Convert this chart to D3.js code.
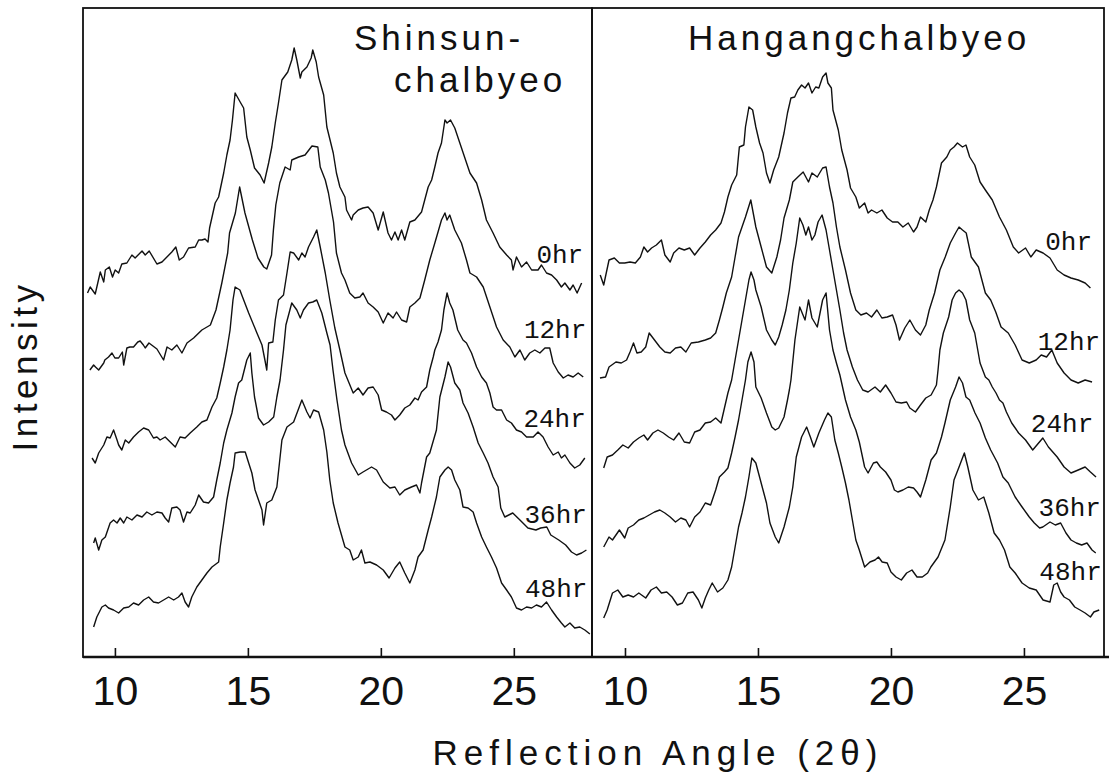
<!DOCTYPE html>
<html>
<head>
<meta charset="utf-8">
<script src="https://cdnjs.cloudflare.com/ajax/libs/d3/7.8.5/d3.min.js"></script>
<style>
  body { margin: 0; background: #fff; }
</style>
</head>
<body>
<script>
const WIDTH = 1109;
const HEIGHT = 772;
const TOP = 8;
const BOTTOM = 657;

// [reflection angle 2θ (deg), intensity (a.u., stacked)]
var shinsun0hr = [[8.97,364],[9.07,370],[9.26,363],[9.45,385],[9.58,375],[9.64,387],[9.79,390],[9.91,380],[10.01,387],[10.14,384],[10.26,393],[10.45,394],[10.64,402],[10.76,399],[11.02,406],[11.14,402],[11.29,406],[11.58,393],[11.77,395],[12.14,405],[12.29,410],[12.42,397],[12.58,400],[12.77,409],[13.02,410],[13.15,417],[13.27,417],[13.39,418],[13.50,415],[13.56,429],[13.77,454],[13.90,460],[14.09,484],[14.21,502],[14.33,517],[14.42,537],[14.52,564],[14.71,555],[14.84,549],[14.96,520],[15.09,507],[15.25,489],[15.46,482],[15.61,474],[15.78,494],[15.90,510],[16.03,534],[16.15,554],[16.28,577],[16.50,585],[16.65,597],[16.74,609],[16.84,597],[16.97,579],[17.03,585],[17.22,590],[17.38,599],[17.44,607],[17.57,595],[17.66,580],[17.85,562],[17.97,530],[18.21,504],[18.33,484],[18.46,470],[18.65,460],[18.71,447],[18.90,437],[18.96,442],[19.15,447],[19.33,449],[19.52,450],[19.71,444],[19.90,427],[20.09,445],[20.27,424],[20.40,417],[20.53,425],[20.65,417],[20.78,427],[20.90,417],[21.09,435],[21.28,437],[21.53,445],[21.65,457],[21.78,470],[21.91,477],[22.03,490],[22.15,504],[22.28,514],[22.41,537],[22.49,534],[22.62,537],[22.78,529],[22.97,514],[23.16,499],[23.35,484],[23.60,474],[23.79,457],[23.97,437],[24.22,424],[24.47,410],[24.73,402],[24.91,397],[24.97,387],[25.10,400],[25.29,390],[25.48,395],[25.67,387],[25.91,387],[26.04,392],[26.23,384],[26.42,382],[26.61,377],[26.79,370],[26.92,374],[27.11,367],[27.23,372],[27.38,364],[27.55,374]];

var shinsun12hr = [[9.06,287],[9.20,292],[9.27,290],[9.39,287],[9.58,294],[9.62,297],[9.76,300],[9.89,304],[10.00,299],[10.14,299],[10.28,305],[10.33,292],[10.45,309],[10.56,310],[10.70,310],[10.86,315],[10.95,316],[11.07,312],[11.14,309],[11.28,314],[11.58,308],[11.83,297],[11.96,310],[12.14,307],[12.33,312],[12.52,304],[12.71,314],[12.96,319],[13.27,327],[13.59,332],[13.80,347],[14.02,374],[14.24,404],[14.31,424],[14.53,444],[14.69,470],[14.89,444],[15.17,417],[15.38,399],[15.60,390],[15.71,388],[15.89,402],[15.96,427],[16.05,452],[16.20,474],[16.40,490],[16.59,487],[16.65,497],[16.91,500],[17.15,502],[17.41,511],[17.63,510],[17.72,490],[17.91,477],[18.03,464],[18.22,435],[18.33,404],[18.52,384],[18.65,377],[18.83,364],[19.02,359],[19.21,360],[19.33,364],[19.52,354],[19.71,350],[19.90,345],[20.09,334],[20.27,344],[20.46,339],[20.59,345],[20.78,337],[20.97,335],[21.09,350],[21.28,354],[21.47,359],[21.65,377],[21.84,397],[22.03,414],[22.15,425],[22.28,437],[22.41,444],[22.49,437],[22.59,442],[22.78,427],[23.03,414],[23.22,397],[23.35,384],[23.60,380],[23.85,370],[24.10,350],[24.35,330],[24.60,317],[24.85,310],[25.04,300],[25.23,307],[25.41,297],[25.60,304],[25.79,307],[25.98,304],[26.17,309],[26.35,309],[26.48,294],[26.67,285],[26.86,279],[27.04,282],[27.23,280],[27.42,284],[27.61,280]];

var shinsun24hr = [[9.14,199],[9.26,194],[9.39,204],[9.58,212],[9.70,220],[9.82,219],[9.95,227],[10.08,217],[10.14,212],[10.26,207],[10.39,217],[10.52,214],[10.70,220],[10.89,225],[11.08,229],[11.27,227],[11.45,219],[11.58,220],[11.70,217],[11.89,220],[12.08,215],[12.27,210],[12.45,220],[12.64,219],[12.83,224],[13.08,230],[13.27,235],[13.46,237],[13.65,250],[13.83,259],[13.96,274],[14.09,290],[14.21,307],[14.33,327],[14.44,357],[14.52,370],[14.70,367],[14.77,362],[15.03,344],[15.34,324],[15.53,312],[15.64,297],[15.71,287],[15.78,314],[15.94,315],[16.03,337],[16.15,357],[16.34,362],[16.47,384],[16.59,405],[16.72,404],[16.91,397],[17.03,404],[17.15,400],[17.28,410],[17.47,420],[17.59,427],[17.72,410],[17.91,384],[18.08,357],[18.27,329],[18.46,307],[18.65,284],[18.96,264],[19.15,269],[19.33,262],[19.52,269],[19.71,270],[19.90,262],[20.03,247],[20.21,245],[20.40,242],[20.53,237],[20.71,242],[20.90,249],[21.09,252],[21.28,259],[21.40,257],[21.53,265],[21.72,270],[21.84,287],[21.97,300],[22.03,307],[22.15,315],[22.28,327],[22.37,347],[22.49,364],[22.59,354],[22.71,347],[22.89,327],[23.09,317],[23.22,314],[23.41,304],[23.60,290],[23.79,280],[23.97,274],[24.10,264],[24.22,250],[24.35,247],[24.54,247],[24.73,237],[24.91,234],[25.10,227],[25.29,225],[25.48,220],[25.73,220],[25.91,225],[26.10,220],[26.29,210],[26.48,202],[26.67,205],[26.79,199],[26.92,202],[27.11,194],[27.29,189],[27.48,192],[27.67,199]];

var shinsun36hr = [[9.20,114],[9.26,119],[9.39,107],[9.51,117],[9.64,120],[9.82,134],[9.95,137],[10.08,134],[10.20,139],[10.33,134],[10.45,140],[10.64,137],[10.83,142],[11.02,140],[11.20,145],[11.39,142],[11.58,145],[11.77,144],[11.89,139],[12.02,135],[12.14,149],[12.33,150],[12.45,147],[12.58,135],[12.71,145],[12.83,144],[13.02,152],[13.15,162],[13.33,155],[13.52,154],[13.71,160],[13.83,177],[13.96,194],[14.09,214],[14.21,227],[14.40,244],[14.52,260],[14.65,274],[14.77,277],[14.96,297],[15.09,304],[15.15,284],[15.25,260],[15.40,239],[15.59,232],[15.78,235],[15.97,240],[16.09,260],[16.21,277],[16.34,307],[16.43,332],[16.58,347],[16.65,354],[16.84,347],[16.97,339],[17.09,347],[17.28,354],[17.44,355],[17.59,357],[17.78,344],[17.97,324],[18.09,312],[18.20,287],[18.35,257],[18.52,227],[18.65,212],[18.90,194],[19.15,182],[19.33,185],[19.65,190],[19.84,187],[20.09,175],[20.34,169],[20.53,170],[20.71,162],[20.90,167],[21.15,170],[21.34,172],[21.47,164],[21.53,174],[21.72,200],[21.84,204],[22.09,227],[22.22,260],[22.41,280],[22.53,295],[22.62,290],[22.78,274],[22.97,267],[23.09,254],[23.28,244],[23.47,230],[23.66,214],[23.85,204],[24.03,194],[24.22,180],[24.41,170],[24.51,149],[24.66,140],[24.96,144],[25.23,137],[25.53,129],[25.83,127],[26.01,129],[26.24,130],[26.39,122],[26.69,117],[26.95,112],[27.17,105],[27.36,102],[27.55,104],[27.73,107]];

var shinsun48hr = [[9.20,30],[9.32,40],[9.51,50],[9.64,52],[9.76,49],[9.95,47],[10.14,44],[10.33,49],[10.52,50],[10.70,54],[10.89,52],[11.08,57],[11.27,60],[11.45,55],[11.64,54],[11.83,57],[12.02,60],[12.21,57],[12.39,60],[12.52,64],[12.64,55],[12.77,50],[12.89,60],[13.08,70],[13.27,77],[13.46,84],[13.65,90],[13.90,95],[13.96,110],[14.09,134],[14.21,157],[14.33,174],[14.46,190],[14.52,204],[14.71,205],[14.90,205],[15.03,194],[15.15,184],[15.27,167],[15.40,157],[15.53,147],[15.59,132],[15.71,154],[15.90,157],[16.09,170],[16.28,217],[16.47,230],[16.72,235],[17.03,257],[17.22,245],[17.34,239],[17.47,247],[17.66,245],[17.85,227],[17.97,205],[18.08,177],[18.21,154],[18.39,134],[18.65,110],[18.83,107],[18.96,97],[19.15,100],[19.27,107],[19.40,94],[19.59,95],[19.84,92],[20.09,87],[20.31,79],[20.53,89],[20.71,95],[20.90,84],[21.09,74],[21.28,87],[21.40,100],[21.59,107],[21.78,127],[21.91,140],[22.09,160],[22.22,180],[22.41,187],[22.53,190],[22.66,187],[22.78,177],[22.97,167],[23.09,150],[23.28,149],[23.47,145],[23.60,134],[23.79,120],[23.97,110],[24.16,100],[24.35,89],[24.54,74],[24.73,67],[24.91,60],[25.10,49],[25.29,47],[25.48,50],[25.67,49],[25.85,52],[26.04,50],[26.23,55],[26.42,47],[26.61,40],[26.79,34],[26.92,30],[27.11,34],[27.29,29],[27.48,30],[27.67,27],[27.86,23]];

var hangang0hr = [[9.07,382],[9.20,372],[9.40,397],[9.60,399],[9.79,394],[9.99,394],[10.19,395],[10.39,394],[10.58,400],[10.71,410],[10.85,405],[11.00,409],[11.18,412],[11.37,417],[11.50,402],[11.70,395],[11.83,404],[12.03,409],[12.23,407],[12.43,409],[12.62,402],[12.82,409],[13.02,415],[13.22,422],[13.41,427],[13.61,434],[13.74,445],[13.87,460],[14.01,472],[14.20,482],[14.30,510],[14.47,512],[14.53,530],[14.66,550],[14.80,547],[14.92,530],[15.06,514],[15.19,504],[15.32,484],[15.45,474],[15.59,487],[15.78,500],[15.98,524],[16.11,544],[16.24,559],[16.38,560],[16.50,567],[16.64,572],[16.77,569],[16.90,574],[17.03,564],[17.17,570],[17.29,569],[17.43,580],[17.56,584],[17.63,574],[17.76,569],[17.82,547],[18.02,527],[18.15,507],[18.35,487],[18.48,469],[18.68,460],[18.81,449],[19.01,454],[19.14,444],[19.27,447],[19.47,444],[19.66,447],[19.86,439],[20.06,435],[20.26,435],[20.45,430],[20.65,434],[20.85,425],[20.98,430],[21.11,440],[21.31,435],[21.44,447],[21.58,457],[21.71,470],[21.90,494],[22.10,500],[22.23,507],[22.37,510],[22.50,514],[22.69,510],[22.82,512],[22.96,500],[23.15,492],[23.35,475],[23.55,467],[23.81,457],[24.08,440],[24.34,427],[24.60,410],[24.80,404],[25.06,409],[25.26,400],[25.46,407],[25.72,404],[25.98,399],[26.25,387],[26.51,382],[26.77,379],[27.04,377],[27.30,374],[27.50,369]];

var hangang12hr = [[9.06,279],[9.27,280],[9.40,290],[9.66,295],[9.86,294],[10.06,297],[10.19,305],[10.32,314],[10.45,304],[10.61,305],[10.78,310],[10.91,324],[11.11,317],[11.31,310],[11.50,305],[11.70,304],[11.90,309],[12.10,310],[12.29,305],[12.49,314],[12.76,315],[13.02,317],[13.22,319],[13.41,324],[13.55,337],[13.68,350],[13.81,364],[14.01,380],[14.14,400],[14.27,420],[14.40,430],[14.53,440],[14.73,457],[14.92,430],[15.12,410],[15.32,390],[15.52,384],[15.71,400],[15.85,417],[15.98,439],[16.18,457],[16.31,475],[16.50,480],[16.70,485],[16.90,475],[17.03,484],[17.23,480],[17.43,489],[17.56,490],[17.69,470],[17.82,454],[17.95,430],[18.08,410],[18.29,387],[18.48,364],[18.68,347],[18.87,342],[19.08,344],[19.27,340],[19.47,347],[19.66,339],[19.86,340],[20.06,342],[20.19,332],[20.32,317],[20.52,329],[20.71,337],[20.92,327],[21.11,322],[21.31,332],[21.44,347],[21.64,364],[21.84,387],[22.04,400],[22.23,414],[22.43,424],[22.56,430],[22.69,427],[22.83,424],[23.02,400],[23.29,390],[23.55,364],[23.75,357],[23.94,345],[24.14,330],[24.41,324],[24.67,312],[24.93,297],[25.20,294],[25.46,297],[25.65,302],[25.85,300],[26.05,307],[26.25,294],[26.51,284],[26.77,277],[27.04,274],[27.30,277],[27.56,275]];

var hangang24hr = [[9.20,189],[9.33,200],[9.53,202],[9.73,207],[9.92,212],[10.12,209],[10.32,215],[10.52,219],[10.71,222],[10.85,217],[11.05,224],[11.24,227],[11.44,224],[11.64,220],[11.83,217],[12.03,224],[12.23,215],[12.43,214],[12.62,225],[12.82,227],[13.02,234],[13.22,235],[13.41,239],[13.61,234],[13.74,249],[13.87,264],[14.01,277],[14.14,297],[14.27,317],[14.40,337],[14.53,357],[14.66,377],[14.74,385],[14.85,377],[14.92,367],[15.12,350],[15.32,327],[15.52,317],[15.65,312],[15.78,320],[15.91,332],[16.05,347],[16.18,367],[16.31,394],[16.44,414],[16.57,439],[16.69,432],[16.80,422],[16.90,430],[17.03,417],[17.14,422],[17.26,435],[17.41,442],[17.56,427],[17.69,407],[17.82,387],[17.95,367],[18.08,347],[18.22,324],[18.35,307],[18.55,290],[18.74,277],[18.94,267],[19.14,265],[19.40,270],[19.60,265],[19.80,272],[20.00,264],[20.19,255],[20.39,254],[20.59,255],[20.71,249],[20.92,245],[21.11,252],[21.31,259],[21.51,262],[21.71,272],[21.77,287],[21.84,307],[21.97,324],[22.17,340],[22.30,357],[22.43,364],[22.56,367],[22.69,364],[22.82,357],[22.96,337],[23.15,324],[23.35,294],[23.55,280],[23.68,277],[23.81,270],[23.95,264],[24.08,257],[24.21,254],[24.34,245],[24.54,234],[24.80,224],[25.06,217],[25.33,207],[25.71,219],[25.92,210],[26.25,200],[26.51,190],[26.77,184],[27.04,187],[27.30,190],[27.50,185],[27.71,180]];

var hangang36hr = [[9.20,110],[9.40,120],[9.53,117],[9.66,122],[9.79,127],[9.99,119],[10.12,129],[10.32,132],[10.52,137],[10.71,139],[10.91,142],[11.11,145],[11.31,147],[11.50,144],[11.70,140],[11.90,135],[12.10,139],[12.29,137],[12.43,130],[12.62,140],[12.82,145],[13.02,154],[13.22,152],[13.41,167],[13.55,180],[13.74,185],[13.87,189],[14.01,204],[14.14,220],[14.27,237],[14.40,257],[14.53,277],[14.62,295],[14.74,305],[14.85,295],[14.92,270],[15.12,259],[15.32,244],[15.52,230],[15.65,227],[15.78,229],[15.98,240],[16.11,257],[16.18,267],[16.24,277],[16.39,317],[16.57,350],[16.77,337],[16.90,357],[17.03,339],[17.23,330],[17.43,357],[17.56,364],[17.69,327],[17.82,307],[17.95,294],[18.08,282],[18.29,257],[18.48,240],[18.68,227],[18.81,215],[19.01,190],[19.14,184],[19.34,194],[19.47,195],[19.60,190],[19.80,185],[20.00,177],[20.13,167],[20.26,165],[20.45,167],[20.65,170],[20.85,169],[20.98,165],[21.11,160],[21.31,177],[21.51,197],[21.71,204],[21.90,220],[22.03,234],[22.23,257],[22.43,270],[22.56,280],[22.69,274],[22.82,260],[22.96,257],[23.16,244],[23.35,234],[23.55,219],[23.75,207],[24.01,194],[24.21,180],[24.41,174],[24.67,160],[24.93,150],[25.20,140],[25.39,134],[25.59,129],[25.71,130],[25.98,135],[26.18,132],[26.38,134],[26.58,124],[26.77,117],[26.97,114],[27.17,112],[27.37,114],[27.56,107],[27.70,104]];

var hangang48hr = [[9.20,39],[9.33,47],[9.53,64],[9.73,67],[9.92,60],[10.12,62],[10.32,60],[10.52,64],[10.78,59],[10.98,67],[11.18,70],[11.37,64],[11.57,65],[11.77,60],[11.97,52],[12.16,54],[12.36,64],[12.56,65],[12.76,57],[12.89,49],[13.02,59],[13.15,67],[13.28,74],[13.48,65],[13.68,69],[13.87,77],[14.01,90],[14.14,110],[14.27,130],[14.40,144],[14.53,160],[14.66,180],[14.77,199],[14.92,194],[15.06,180],[15.19,167],[15.32,154],[15.45,134],[15.65,120],[15.78,114],[15.98,130],[16.18,150],[16.31,170],[16.44,200],[16.64,220],[16.83,230],[16.97,220],[17.10,210],[17.29,224],[17.50,237],[17.63,244],[17.76,240],[17.89,217],[18.02,204],[18.15,190],[18.29,174],[18.42,157],[18.55,137],[18.68,117],[18.81,107],[19.01,90],[19.21,95],[19.40,97],[19.53,100],[19.67,95],[19.86,94],[20.00,85],[20.19,80],[20.39,77],[20.59,84],[20.79,87],[20.98,80],[21.18,80],[21.38,84],[21.50,90],[21.77,100],[22.03,117],[22.23,150],[22.37,177],[22.56,190],[22.76,204],[22.89,190],[23.08,167],[23.29,157],[23.49,160],[23.68,144],[23.88,124],[24.08,117],[24.27,107],[24.47,90],[24.67,84],[24.93,74],[25.20,69],[25.46,67],[25.72,57],[25.98,55],[26.12,72],[26.25,74],[26.38,65],[26.51,60],[26.71,57],[26.91,50],[27.11,47],[27.30,44],[27.50,40],[27.63,45],[27.83,47]];

var HOURS = ["0hr", "12hr", "24hr", "36hr", "48hr"];
var TICKS = [10, 15, 20, 25];

// where each time label sits, in [angle, intensity]
var shinsunLabelAt = [[25.85,394],[25.38,319],[25.36,230],[25.40,134],[25.42,60]];
var hangangLabelAt = [[25.80,407],[25.52,307],[25.26,225],[25.55,141],[25.58,77]];

var panels = [
  { title: ["Shinsun-", "chalbyeo"], titleX: [354, 394], titleY: [50, 92],
    series: [shinsun0hr, shinsun12hr, shinsun24hr, shinsun36hr, shinsun48hr],
    labelAt: shinsunLabelAt, domain: [8.8, 27.94], range: [83, 592] },
  { title: ["Hangangchalbyeo"], titleX: [688], titleY: [50],
    series: [hangang0hr, hangang12hr, hangang24hr, hangang36hr, hangang48hr],
    labelAt: hangangLabelAt, domain: [8.76, 28.01], range: [592, 1104] }
];

var svg = d3
  .select("body")
  .append("svg")
  .attr("width", WIDTH)
  .attr("height", HEIGHT);

var yScale = d3
  .scaleLinear()
  .domain([0, 649])
  .range([BOTTOM, TOP]);

panels.forEach(function (p) {
  var xScale = d3.scaleLinear().domain(p.domain).range(p.range);

  var line = d3
    .line()
    .x((d) => xScale(d[0]))
    .y((d) => yScale(d[1]));

  var g = svg.append("g");

  //curves
  g.selectAll("path.trace")
    .data(p.series)
    .enter()
    .append("path")
    .attr("class", "trace")
    .attr("d", line)
    .attr("fill", "none")
    .attr("stroke", "#111")
    .attr("stroke-width", 1.4)
    .attr("stroke-linejoin", "round");

  //time labels
  g.selectAll("text.hr")
    .data(HOURS)
    .enter()
    .append("text")
    .attr("class", "hr")
    .text((d) => d)
    .attr("x", (d, i) => xScale(p.labelAt[i][0]))
    .attr("y", (d, i) => yScale(p.labelAt[i][1]))
    .attr("font-family", "'Liberation Mono', 'DejaVu Sans Mono', monospace")
    .attr("font-size", "26px")
    .attr("fill", "#111");

  //title
  g.selectAll("text.title")
    .data(p.title)
    .enter()
    .append("text")
    .attr("class", "title")
    .text((d) => d)
    .attr("x", (d, i) => p.titleX[i])
    .attr("y", (d, i) => p.titleY[i])
    .attr("font-family", "'Liberation Sans', Arial, sans-serif")
    .attr("font-size", "35px")
    .attr("letter-spacing", "4px")
    .attr("fill", "#111");

  //x axis, ticks pointing inward
  var axis = d3
    .axisBottom(xScale)
    .tickValues(TICKS)
    .tickSize(-9)
    .tickPadding(19)
    .tickFormat(d3.format("d"));

  var ax = g.append("g")
    .attr("transform", "translate(0," + BOTTOM + ")")
    .call(axis);
  ax.select(".domain").remove();
  ax.selectAll(".tick line").attr("stroke", "#111").attr("stroke-width", 1.6);
  ax.selectAll(".tick text")
    .attr("font-family", "'Liberation Sans', Arial, sans-serif")
    .attr("font-size", "41px")
    .attr("fill", "#111");

  //panel frame
  g.append("rect")
    .attr("x", p.range[0])
    .attr("y", TOP)
    .attr("width", p.range[1] - p.range[0])
    .attr("height", BOTTOM - TOP)
    .attr("fill", "none")
    .attr("stroke", "#111")
    .attr("stroke-width", 1.8);
});

//bottom baseline
svg.append("line")
  .attr("x1", 83).attr("x2", WIDTH)
  .attr("y1", BOTTOM).attr("y2", BOTTOM)
  .attr("stroke", "#111")
  .attr("stroke-width", 2.6);

//axis titles
svg.append("text")
  .text("Reflection Angle (2θ)")
  .attr("x", 658)
  .attr("y", 765)
  .attr("text-anchor", "middle")
  .attr("font-family", "'Liberation Sans', Arial, sans-serif")
  .attr("font-size", "35px")
  .attr("letter-spacing", "6px")
  .attr("fill", "#111");

svg.append("text")
  .text("Intensity")
  .attr("transform", "translate(37,366) rotate(-90)")
  .attr("text-anchor", "middle")
  .attr("font-family", "'Liberation Sans', Arial, sans-serif")
  .attr("font-size", "35px")
  .attr("letter-spacing", "4.5px")
  .attr("fill", "#111");
</script>
</body>
</html>
